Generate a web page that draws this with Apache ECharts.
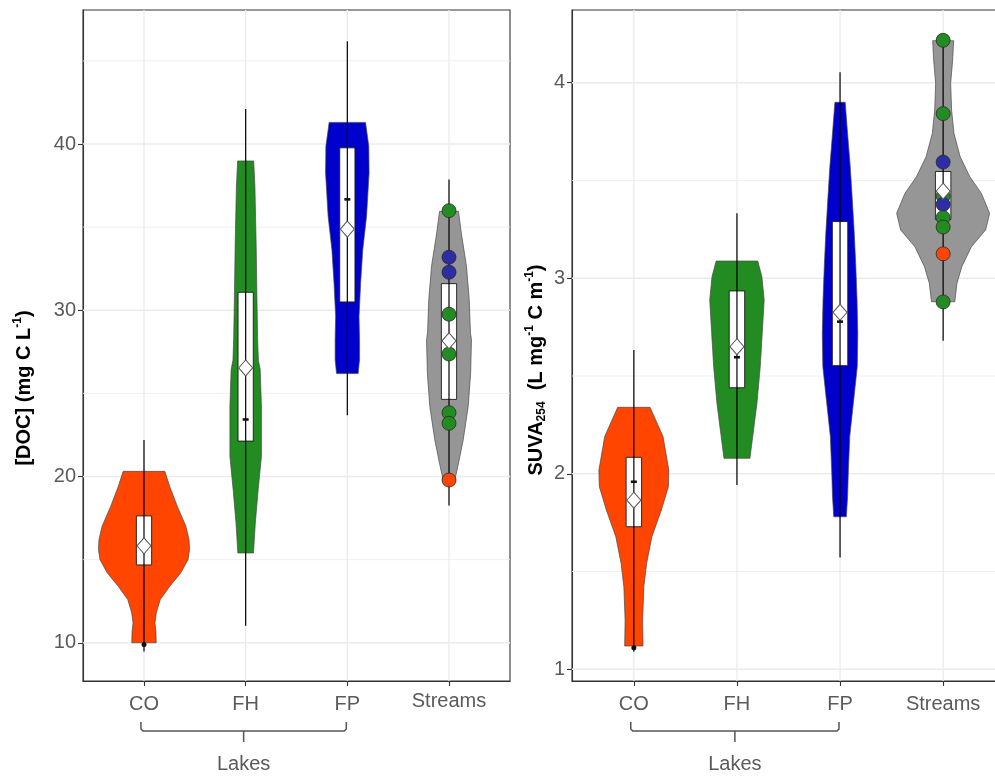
<!DOCTYPE html>
<html>
<head>
<meta charset="utf-8">
<script src="https://cdn.jsdelivr.net/npm/echarts@6/dist/echarts.min.js"></script>
<style>
html,body{margin:0;padding:0;background:#ffffff;}
#chart{width:995px;height:776px;}
</style>
</head>
<body>
<div id="chart"></div>
<script>
// ---------------- DATA ----------------
const categories = ['CO', 'FH', 'FP', 'Streams'];
const bracketLabel = 'Lakes';
const bracketFrom = 'CO';
const bracketTo = 'FP';

// Left panel: [DOC]
const docTicks = [10, 20, 30, 40];
const docMinorTicks = [15, 25, 35, 45];
// violin density profiles: [value, half width in category units]
const docViolinCO = [[20.31,0.205],[19.40,0.253],[18.20,0.328],[17.00,0.413],[16.20,0.443],[15.60,0.448],[15.00,0.433],[14.20,0.361],[13.40,0.254],[12.60,0.160],[11.80,0.121],[11.20,0.108],[10.60,0.118],[10.00,0.120]];
const docViolinFH = [[38.98,0.079],[37.45,0.091],[34.05,0.103],[31.04,0.110],[28.23,0.118],[27.00,0.125],[26.43,0.143],[24.22,0.155],[21.21,0.155],[19.21,0.123],[17.20,0.095],[15.40,0.077]];
const docViolinFP = [[41.30,0.179],[39.86,0.211],[38.26,0.214],[35.65,0.189],[33.65,0.152],[31.64,0.131],[29.63,0.115],[28.23,0.120],[27.03,0.120],[26.19,0.106]];
const docViolinStreams = [[35.95,0.093],[34.65,0.121],[32.64,0.172],[30.64,0.199],[28.63,0.211],[28.23,0.221],[26.23,0.213],[24.22,0.189],[22.21,0.140],[20.61,0.087],[19.71,0.054]];
const docBoxLower = [14.68, 22.13, 30.50, 24.64];
const docBoxUpper = [17.63, 31.08, 39.77, 31.60];
const docRangeLow = [9.48, 11.02, 23.69, 18.25];
const docRangeHigh = [22.20, 42.11, 46.18, 37.87];
const docCentre = [15.83, 26.53, 34.88, 28.16];
const docMean = [null, 23.43, 36.67, null];
const docLowPoint = [9.90, null, null, null];
const docStreamValues = [35.99, 33.19, 32.29, 29.76, 27.37, 23.84, 23.20, 19.79];
const docStreamLake = ['FH', 'FP', 'FP', 'FH', 'FH', 'FH', 'FH', 'CO'];

// Right panel: SUVA254
const suvaTicks = [1, 2, 3, 4];
const suvaMinorTicks = [1.5, 2.5, 3.5];
const suvaViolinCO = [[2.340,0.157],[2.190,0.283],[2.019,0.339],[1.934,0.335],[1.815,0.267],[1.678,0.175],[1.542,0.124],[1.422,0.097],[1.252,0.085],[1.119,0.089]];
const suvaViolinFH = [[3.088,0.202],[3.008,0.242],[2.889,0.264],[2.718,0.245],[2.548,0.226],[2.360,0.194],[2.190,0.153],[2.079,0.126]];
const suvaViolinFP = [[3.900,0.050],[3.741,0.073],[3.570,0.099],[3.400,0.119],[3.230,0.138],[3.059,0.153],[2.889,0.165],[2.718,0.172],[2.548,0.167],[2.360,0.129],[2.190,0.094],[2.019,0.081],[1.883,0.073],[1.780,0.061]];
const suvaViolinStreams = [[4.215,0.102],[4.116,0.092],[3.997,0.073],[3.860,0.082],[3.741,0.105],[3.622,0.165],[3.519,0.259],[3.434,0.371],[3.332,0.451],[3.247,0.412],[3.161,0.274],[3.059,0.181],[2.974,0.134],[2.880,0.113]];
const suvaBoxLower = [1.729, 2.440, 2.553, 3.300];
const suvaBoxUpper = [2.084, 2.935, 3.290, 3.546];
const suvaRangeLow = [1.089, 1.942, 1.572, 2.680];
const suvaRangeHigh = [2.633, 3.333, 4.053, 4.200];
const suvaCentre = [1.865, 2.650, 2.826, 3.445];
const suvaMean = [1.959, 2.596, 2.778, null];
const suvaLowPoint = [1.110, null, null, null];
const suvaStreamValues = [4.217, 3.842, 3.594, 3.420, 3.378, 3.310, 3.262, 3.125, 2.879];
const suvaStreamLake = ['FH', 'FH', 'FP', 'FH', 'FP', 'FH', 'FH', 'CO', 'FH'];

// ---------------- STYLE ----------------
const FONT = "'Liberation Sans', Arial, sans-serif";
const violinFill = {CO: '#FF4500', FH: '#228B22', FP: '#0000CD', Streams: '#969696'};
const pointFill = {CO: '#FF4500', FH: '#228B22', FP: '#2D2DA6'};
const gridColor = '#EBEBEB';
const axisColor = '#333333';
const textColor = '#5A5A5A';
const boxHalf = 0.075;

const panels = [
  {
    axisMin: 7.70, axisMax: 48.06,
    ticks: docTicks, minor: docMinorTicks,
    violins: [docViolinCO, docViolinFH, docViolinFP, docViolinStreams],
    boxLo: docBoxLower, boxHi: docBoxUpper,
    rangeLo: docRangeLow, rangeHi: docRangeHigh,
    centre: docCentre, mean: docMean, low: docLowPoint,
    streams: docStreamValues, lake: docStreamLake,
    grid: {left: 83, top: 10, width: 427, height: 671},
    streamsLabelUp: true
  },
  {
    axisMin: 0.940, axisMax: 4.372,
    ticks: suvaTicks, minor: suvaMinorTicks,
    violins: [suvaViolinCO, suvaViolinFH, suvaViolinFP, suvaViolinStreams],
    boxLo: suvaBoxLower, boxHi: suvaBoxUpper,
    rangeLo: suvaRangeLow, rangeHi: suvaRangeHigh,
    centre: suvaCentre, mean: suvaMean, low: suvaLowPoint,
    streams: suvaStreamValues, lake: suvaStreamLake,
    grid: {left: 572, top: 10, width: 433, height: 671},
    streamsLabelUp: false
  }
];

const catPos = categories.map((c, i) => i + 1);
const X_MIN = 0.4, X_MAX = 4.6;

function buildSeries(idx, P) {
  const ax = {xAxisIndex: idx, yAxisIndex: idx};
  const out = [];
  // grid lines
  out.push({
    type: 'custom', ...ax, z: 1, silent: true, animation: false,
    data: [[catPos[0], P.ticks[0]]],
    renderItem: function (params, api) {
      const ch = [];
      const hl = (v, w) => {
        const a = api.coord([X_MIN, v]), b = api.coord([X_MAX, v]);
        ch.push({type: 'line', shape: {x1: a[0], y1: a[1], x2: b[0], y2: b[1]}, style: {stroke: gridColor, lineWidth: w}});
      };
      P.minor.forEach(v => hl(v, 0.8));
      P.ticks.forEach(v => hl(v, 1.3));
      catPos.forEach(x => {
        const a = api.coord([x, P.axisMin]), b = api.coord([x, P.axisMax]);
        ch.push({type: 'line', shape: {x1: a[0], y1: a[1], x2: b[0], y2: b[1]}, style: {stroke: gridColor, lineWidth: 1.3}});
      });
      return {type: 'group', children: ch};
    }
  });
  // violins
  out.push({
    type: 'custom', ...ax, z: 2, silent: true, animation: false,
    data: catPos.map(x => [x, P.violins[x - 1][0][0]]),
    renderItem: function (params, api) {
      const i = params.dataIndex;
      const cx = catPos[i];
      const prof = P.violins[i];
      const left = prof.map(p => api.coord([cx - p[1], p[0]]));
      const right = prof.slice().reverse().map(p => api.coord([cx + p[1], p[0]]));
      return {
        type: 'polygon',
        shape: {points: left.concat(right)},
        style: {fill: violinFill[categories[i]], stroke: 'rgba(70,70,70,0.85)', lineWidth: 0.8}
      };
    }
  });
  // boxes
  out.push({
    type: 'custom', ...ax, z: 3, silent: true, animation: false,
    data: catPos.map((x, i) => [x, P.boxLo[i], P.boxHi[i]]),
    renderItem: function (params, api) {
      const x = api.value(0);
      const a = api.coord([x - boxHalf, api.value(2)]);
      const b = api.coord([x + boxHalf, api.value(1)]);
      return {type: 'rect', shape: {x: a[0], y: a[1], width: b[0] - a[0], height: b[1] - a[1]},
        style: {fill: '#ffffff', stroke: '#1a1a1a', lineWidth: 0.9}};
    }
  });
  // range lines
  out.push({
    type: 'custom', ...ax, z: 4, silent: true, animation: false,
    data: catPos.map((x, i) => [x, P.rangeLo[i], P.rangeHi[i]]),
    renderItem: function (params, api) {
      const a = api.coord([api.value(0), api.value(1)]);
      const b = api.coord([api.value(0), api.value(2)]);
      return {type: 'line', shape: {x1: a[0], y1: a[1], x2: b[0], y2: b[1]},
        style: {stroke: '#000000', lineWidth: 1.2}};
    }
  });
  // stream points
  out.push({
    type: 'scatter', ...ax, z: 5, silent: true, animation: false,
    symbol: 'circle', symbolSize: 14,
    data: P.streams.map((v, i) => ({value: [catPos[3], v], itemStyle: {color: pointFill[P.lake[i]]}})),
    itemStyle: {borderColor: '#2a2a2a', borderWidth: 0.8, opacity: 1}
  });
  // diamonds
  out.push({
    type: 'scatter', ...ax, z: 6, silent: true, animation: false,
    symbol: 'diamond', symbolSize: [14, 16],
    data: catPos.map((x, i) => [x, P.centre[i]]),
    itemStyle: {color: '#ffffff', borderColor: '#555555', borderWidth: 1, opacity: 1}
  });
  // mean dashes
  out.push({
    type: 'custom', ...ax, z: 7, silent: true, animation: false,
    data: catPos.map((x, i) => [x, P.mean[i]]).filter(d => d[1] !== null),
    renderItem: function (params, api) {
      const c = api.coord([api.value(0), api.value(1)]);
      return {type: 'rect', shape: {x: c[0] - 3, y: c[1] - 1.3, width: 6, height: 2.6}, style: {fill: '#111111'}};
    }
  });
  // low points
  out.push({
    type: 'scatter', ...ax, z: 7, silent: true, animation: false,
    symbol: 'circle', symbolSize: 5,
    data: catPos.map((x, i) => [x, P.low[i]]).filter(d => d[1] !== null),
    itemStyle: {color: '#111111', opacity: 1}
  });
  // bracket + label under x axis
  out.push({
    type: 'custom', ...ax, z: 8, silent: true, animation: false, clip: false,
    data: [[categories.indexOf(bracketFrom) + 1, P.axisMin]],
    renderItem: function (params, api) {
      const x1 = api.coord([categories.indexOf(bracketFrom) + 1 - 0.03, P.axisMin]);
      const x2 = api.coord([categories.indexOf(bracketTo) + 1 - 0.01, P.axisMin]);
      const base = x1[1];
      const xa = x1[0], xb = x2[0], xc = (xa + xb) / 2;
      const st = {stroke: '#555555', lineWidth: 1.5, fill: null};
      return {type: 'group', children: [
        {type: 'polyline', shape: {points: [[xa, base + 41], [xa, base + 48], [xa + 2, base + 50], [xb - 2, base + 50], [xb, base + 48], [xb, base + 41]]}, style: st},
        {type: 'line', shape: {x1: xc, y1: base + 50, x2: xc, y2: base + 61}, style: st},
        {type: 'text', x: xc, y: base + 83, style: {text: bracketLabel, fill: textColor, font: '20px ' + FONT, align: 'center', verticalAlign: 'middle'}}
      ]};
    }
  });
  return out;
}

const chart = echarts.init(document.getElementById('chart'), null, {renderer: 'canvas'});

const option = {
  animation: false,
  backgroundColor: '#ffffff',
  grid: panels.map(P => ({...P.grid, show: true, borderColor: axisColor, borderWidth: 1.1, backgroundColor: '#ffffff', containLabel: false, outerBoundsMode: 'none'})),
  xAxis: panels.map((P, idx) => ({
    gridIndex: idx, type: 'value', min: X_MIN, max: X_MAX,
    axisLine: {show: true, onZero: false, lineStyle: {color: axisColor, width: 1.1}},
    axisTick: {show: true, length: 5, customValues: catPos, lineStyle: {color: axisColor, width: 1.1}},
    axisLabel: {
      show: true, customValues: catPos, margin: 13, fontSize: 20, color: textColor, fontFamily: FONT,
      formatter: function (v) {
        const name = categories[Math.round(v) - 1];
        return (P.streamsLabelUp && name === 'Streams') ? '{s|' + name + '}' : name;
      },
      rich: {s: {fontSize: 20, color: textColor, fontFamily: FONT, lineHeight: 14}}
    },
    splitLine: {show: false}
  })),
  yAxis: panels.map((P, idx) => ({
    gridIndex: idx, type: 'value', min: P.axisMin, max: P.axisMax,
    axisLine: {show: true, onZero: false, lineStyle: {color: axisColor, width: 1.1}},
    axisTick: {show: true, length: 5, customValues: P.ticks, lineStyle: {color: axisColor, width: 1.1}},
    axisLabel: {show: true, customValues: P.ticks, margin: 7, fontSize: 20, color: textColor, fontFamily: FONT},
    splitLine: {show: false}
  })),
  graphic: [
    {
      type: 'text', x: 24, y: 388, rotation: Math.PI / 2, z: 100,
      style: {
        text: '{b|[DOC] (mg C L}{sup|-1}{b|)}',
        align: 'center', verticalAlign: 'middle',
        rich: {
          b: {fontSize: 20, fontWeight: 'bold', fontFamily: FONT, fill: '#000', lineHeight: 24},
          sup: {fontSize: 12, fontWeight: 'bold', fontFamily: FONT, fill: '#000', lineHeight: 14, verticalAlign: 'top'}
        }
      }
    },
    {
      type: 'text', x: 536, y: 370, rotation: Math.PI / 2, z: 100,
      style: {
        text: '{b|SUVA}{sub|254}{b|  (L mg}{sup|-1}{b| C m}{sup|-1}{b|)}',
        align: 'center', verticalAlign: 'middle',
        rich: {
          b: {fontSize: 20, fontWeight: 'bold', fontFamily: FONT, fill: '#000', lineHeight: 24},
          sup: {fontSize: 12, fontWeight: 'bold', fontFamily: FONT, fill: '#000', lineHeight: 14, verticalAlign: 'top'},
          sub: {fontSize: 12, fontWeight: 'bold', fontFamily: FONT, fill: '#000', lineHeight: 14, verticalAlign: 'bottom'}
        }
      }
    }
  ],
  series: [].concat(buildSeries(0, panels[0]), buildSeries(1, panels[1]))
};

chart.setOption(option);
</script>
</body>
</html>
